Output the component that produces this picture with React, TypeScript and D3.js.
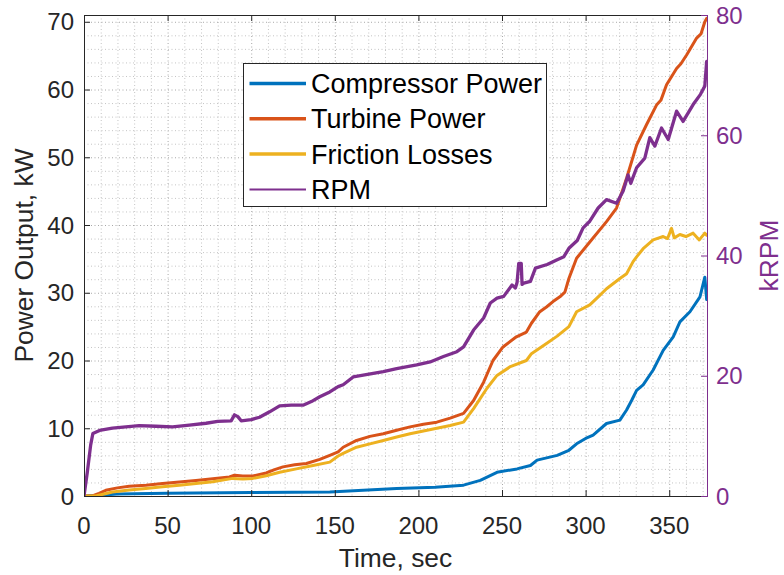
import React from "react";
import * as d3 from "d3";

// ---- Data ----
const compressorTime = [0, 10, 20, 50, 100, 147, 187, 210, 227, 237, 247, 259, 267, 271, 283, 290, 294.6, 300, 304.5, 312.5, 320.5, 324.5, 327.5, 330.5, 334.4, 340.4, 346.4, 352.4, 356.4, 362.4, 368.4, 371.3, 372.4];
const compressorPower = [0, 0.1, 0.3, 0.4, 0.5, 0.6, 1.1, 1.3, 1.6, 2.3, 3.5, 4.0, 4.5, 5.3, 6.0, 6.75, 7.7, 8.5, 9.0, 10.7, 11.2, 12.7, 14.1, 15.6, 16.4, 18.6, 21.5, 23.5, 25.7, 27.2, 29.4, 32.3, 29.0];

const turbineTime = [0, 5, 9, 13, 20, 27, 37, 47, 57, 67, 77, 87, 90, 95, 101, 109, 114, 119, 126, 133, 141, 147, 152, 155, 163, 171, 179, 187, 195, 203, 211, 219, 227, 233, 239, 244.6, 250.6, 258.6, 264.6, 267.6, 272.6, 276.6, 280.5, 284.6, 287.6, 290, 294.6, 302.5, 312.5, 318.5, 324.5, 330.5, 336.4, 342.4, 345, 348.4, 354.4, 357, 360.4, 366.4, 369, 371.3, 372.4];
const turbinePower = [0, 0, 0.4, 0.84, 1.2, 1.43, 1.6, 1.83, 2.05, 2.3, 2.55, 2.8, 3.06, 2.95, 2.95, 3.4, 3.9, 4.3, 4.6, 4.8, 5.4, 6.0, 6.5, 7.2, 8.2, 8.8, 9.2, 9.7, 10.2, 10.6, 10.9, 11.5, 12.2, 14.1, 16.8, 20, 22, 23.5, 24.2, 25.5, 27.2, 27.9, 28.7, 29.4, 30.1, 32.1, 35.1, 37.5, 40.5, 42.5, 46.9, 51.8, 54.8, 57.7, 58.4, 60.7, 63.1, 63.8, 65.1, 67.6, 68.2, 70, 70.5];

const frictionTime = [0, 7, 12, 17, 27, 37, 47, 57, 67, 77, 89, 95, 101, 109, 117, 127, 137, 147, 152, 155, 163, 171, 179, 187, 195, 203, 211, 219, 227, 233, 241, 247, 255, 264.6, 267.6, 276.6, 283, 290, 294.6, 302.5, 308, 312.5, 320.5, 324.5, 328.4, 330.5, 334.4, 340.4, 346.4, 349, 351.4, 353, 356.4, 360, 364.3, 368, 371.3, 372.4];
const frictionLosses = [0, 0, 0.3, 0.6, 0.9, 1.1, 1.35, 1.6, 1.85, 2.1, 2.6, 2.5, 2.6, 3.0, 3.5, 4.0, 4.5, 5.0, 5.9, 6.3, 7.2, 7.7, 8.2, 8.7, 9.2, 9.6, 10, 10.4, 10.9, 12.9, 15.9, 17.8, 19.1, 20, 21, 22.5, 23.6, 25, 27.2, 28.2, 29.5, 30.6, 32.1, 32.8, 34.6, 35.3, 36.5, 37.8, 38.3, 38.0, 39.5, 38.1, 38.6, 38.3, 38.8, 37.8, 38.8, 38.5];

const rpmTime = [0, 2, 4, 5.3, 9.3, 17, 25, 33, 43, 53, 63, 73, 80, 88, 90, 92, 94, 100, 105, 111, 117, 124, 131, 136, 141, 147, 152, 155, 161, 167, 179, 187, 199, 207, 215, 223, 227, 233, 239, 243, 247, 251, 256, 258, 259, 260, 261.5, 262, 263, 267, 270, 277, 283, 287, 290, 295, 298.5, 302.5, 307.5, 312.5, 318.5, 322.4, 325.4, 327, 330.5, 335.4, 338.4, 341.4, 345.4, 349.4, 354.4, 358.3, 364.3, 368.7, 371.3, 372.4];
const rpmValues = [0, 4, 8.5, 10.4, 10.9, 11.3, 11.5, 11.7, 11.6, 11.5, 11.8, 12.1, 12.4, 12.5, 13.5, 13.2, 12.5, 12.7, 13.1, 14, 15, 15.1, 15.1, 15.7, 16.5, 17.3, 18.2, 18.5, 19.8, 20.1, 20.7, 21.2, 21.8, 22.3, 23.2, 24, 24.8, 27.6, 29.6, 32.1, 32.9, 33.2, 35.1, 34.6, 35.5, 38.7, 38.7, 35.2, 35.4, 35.7, 37.9, 38.5, 39.3, 39.8, 41.2, 42.5, 44.6, 45.7, 47.9, 49.3, 48.7, 50.7, 53.4, 52, 54.6, 56.2, 59.6, 58.2, 61.2, 59.3, 64, 62.3, 65.1, 66.8, 68.2, 72.3];

const xTicks = [0, 50, 100, 150, 200, 250, 300, 350];
const yLeftTicks = [0, 10, 20, 30, 40, 50, 60, 70];
const yRightTicks = [0, 20, 40, 60, 80];
const legendLabels = ["Compressor Power", "Turbine Power", "Friction Losses", "RPM"];

const C_BLUE = "#0072BD";
const C_ORANGE = "#D95319";
const C_YELLOW = "#EDB120";
const C_PURPLE = "#7E2F8E";
const C_AXIS = "#262626";
const FONT = "'Liberation Sans', Arial, Helvetica, sans-serif";

export default function App() {
  const W = 784, H = 575;
  const L = 84, R = 707, T = 15, B = 496;
  const x = d3.scaleLinear().domain([0, 372.6]).range([L, R]);
  const yL = d3.scaleLinear().domain([0, 71]).range([B, T]);
  const yR = d3.scaleLinear().domain([0, 80]).range([B, T]);

  const zip = (t: number[], v: number[]) => t.map((d, i) => [d, v[i]] as [number, number]);
  const lineL = d3.line<[number, number]>().x(d => x(d[0])).y(d => yL(d[1]));
  const lineR = d3.line<[number, number]>().x(d => x(d[0])).y(d => yR(d[1]));

  const xMinor = d3.range(10, 372, 10);
  const yMinor = d3.range(2, 71, 2);

  const series = [
    { d: lineL(zip(compressorTime, compressorPower)), c: C_BLUE, w: 3 },
    { d: lineL(zip(turbineTime, turbinePower)), c: C_ORANGE, w: 3 },
    { d: lineL(zip(frictionTime, frictionLosses)), c: C_YELLOW, w: 3 },
    { d: lineR(zip(rpmTime, rpmValues)), c: C_PURPLE, w: 3.3 },
  ];
  const legendColors = [C_BLUE, C_ORANGE, C_YELLOW, C_PURPLE];
  const legendWidths = [3.5, 3.5, 3.5, 2];

  const lgX = 243.5, lgY = 63.5, lgW = 303, lgH = 143;

  return (
    <svg width={W} height={H} style={{ position: "absolute", left: 0, top: 0, background: "#fff" }} fontFamily={FONT}>
      <rect x={0} y={0} width={W} height={H} fill="#fff" />
      <defs>
        <clipPath id="plotclip">
          <rect x={L} y={T - 2} width={R - L} height={B - T + 2} />
        </clipPath>
      </defs>
      {/* grid */}
      <g stroke="#b8b8b8" strokeWidth={1} strokeDasharray="1,2.5">
        {xMinor.map(v => (
          <line key={"gx" + v} x1={x(v) + 0.5} x2={x(v) + 0.5} y1={T} y2={B} stroke={v % 50 === 0 ? "#a8a8a8" : "#c4c4c4"} />
        ))}
        {yMinor.map(v => (
          <line key={"gy" + v} x1={L} x2={R} y1={yL(v) + 0.5} y2={yL(v) + 0.5} stroke={v % 10 === 0 ? "#a8a8a8" : "#c4c4c4"} />
        ))}
      </g>
      {/* data */}
      <g clipPath="url(#plotclip)" fill="none" strokeLinejoin="round" strokeLinecap="round">
        {series.map((s, i) => (
          <path key={i} d={s.d || ""} stroke={s.c} strokeWidth={s.w} />
        ))}
      </g>
      {/* axes frame */}
      <line x1={L} x2={R} y1={T + 0.5} y2={T + 0.5} stroke={C_AXIS} strokeWidth={1} />
      <line x1={L} x2={R} y1={B + 0.5} y2={B + 0.5} stroke={C_AXIS} strokeWidth={1} />
      <line x1={L + 0.5} x2={L + 0.5} y1={T} y2={B + 1} stroke={C_AXIS} strokeWidth={1} />
      <line x1={R + 0.5} x2={R + 0.5} y1={T} y2={B + 1} stroke={C_PURPLE} strokeWidth={1} />
      {/* x ticks */}
      {xTicks.map(v => (
        <g key={"xt" + v}>
          <line x1={x(v) + 0.5} x2={x(v) + 0.5} y1={B} y2={B - 6} stroke={C_AXIS} />
          <line x1={x(v) + 0.5} x2={x(v) + 0.5} y1={T} y2={T + 6} stroke={C_AXIS} />
          <text x={x(v)} y={534} textAnchor="middle" fontSize={24} fill={C_AXIS}>{v}</text>
        </g>
      ))}
      {/* left y ticks */}
      {yLeftTicks.map(v => (
        <g key={"yl" + v}>
          <line x1={L} x2={L + 6} y1={yL(v) + 0.5} y2={yL(v) + 0.5} stroke={C_AXIS} />
          <text x={74} y={yL(v) + 8.5} textAnchor="end" fontSize={24} fill={C_AXIS}>{v}</text>
        </g>
      ))}
      {/* right y ticks */}
      {yRightTicks.map(v => (
        <g key={"yr" + v}>
          <line x1={R} x2={R - 6} y1={yR(v) + 0.5} y2={yR(v) + 0.5} stroke={C_PURPLE} />
          <text x={716} y={yR(v) + 8.5} textAnchor="start" fontSize={24} fill={C_PURPLE}>{v}</text>
        </g>
      ))}
      {/* axis labels */}
      <text x={(L + R) / 2} y={567} textAnchor="middle" fontSize={26.4} fill={C_AXIS}>Time, sec</text>
      <text transform={`translate(33,${(T + B) / 2}) rotate(-90)`} textAnchor="middle" fontSize={26.4} fill={C_AXIS}>Power Output, kW</text>
      <text transform={`translate(778,${(T + B) / 2}) rotate(-90)`} textAnchor="middle" fontSize={26.4} fill={C_PURPLE}>kRPM</text>
      {/* legend */}
      <rect x={lgX} y={lgY} width={lgW} height={lgH} fill="#fff" stroke={C_AXIS} strokeWidth={1} />
      {legendLabels.map((lab, i) => {
        const cy = 83.5 + i * 35.3;
        return (
          <g key={lab}>
            <line x1={249.5} x2={306} y1={cy} y2={cy} stroke={legendColors[i]} strokeWidth={legendWidths[i]} />
            <text x={311} y={cy + 9.5} fontSize={27} fill="#000">{lab}</text>
          </g>
        );
      })}
    </svg>
  );
}
